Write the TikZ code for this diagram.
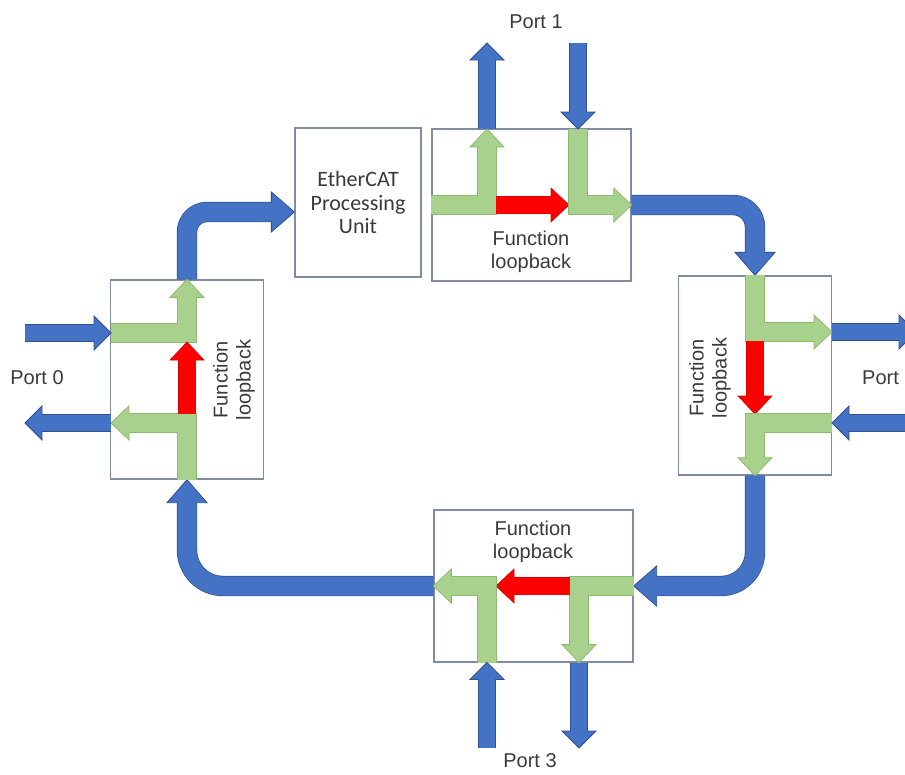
\documentclass[tikz,border=0pt]{standalone}
\usepackage{fontspec}
\setmainfont{Liberation Sans}
\newfontfamily\calibri{Carlito}
\usetikzlibrary{calc}

\definecolor{bluefill}{HTML}{4472C4}
\definecolor{blueedge}{HTML}{2F528F}
\definecolor{greenfill}{HTML}{A9D18E}
\definecolor{greenedge}{HTML}{8DBB6E}
\definecolor{redfill}{HTML}{FF0000}
\definecolor{rededge}{HTML}{D80000}
\definecolor{boxedge}{HTML}{7F8CA3}
\definecolor{ink}{HTML}{3A3A3A}

% head half width and head length for each kind of block arrow
\def\hwport{17pt}  \def\lenport{17pt}
\def\hwlink{20pt}  \def\lenlink{23pt}
\def\hwgreen{17pt} \def\lengreen{18pt}
\def\hwred{17pt}   \def\lenred{18pt}

% \flowarrow[opts]{kind}{shaft path}{last shaft point}{tip}
\newcommand\flowarrow[5][]{%
  \edef\fahw{\csname hw#2\endcsname}%
  \edef\falen{\csname len#2\endcsname}%
  \coordinate (fabase) at ($(#5)!\falen!(#4)$);
  \draw[#2 rim,#1] #3 -- (fabase);
  \filldraw[#2 head] ($(fabase)!\fahw!90:(#5)$) -- (#5) -- ($(fabase)!\fahw!-90:(#5)$) -- cycle;
  \draw[#2 body,#1] #3 -- ($(fabase)!0.8pt!(#5)$);
}

\begin{document}
\begin{tikzpicture}[x=1pt,y=-1pt,
  line join=miter,
  unitbox/.style={draw=boxedge, line width=1.3pt, inner sep=0pt, fill=white},
  wideunit/.style={unitbox, minimum width=199pt, minimum height=152pt},
  tallunit/.style={unitbox, minimum width=153pt, minimum height=199pt},
  lbl/.style={text=ink, font=\fontsize{20}{23}\selectfont, inner sep=0pt, align=center},
  port rim/.style={draw=blueedge, line width=17.4pt},
  port body/.style={draw=bluefill, line width=16pt},
  port head/.style={fill=bluefill, draw=blueedge, line width=0.8pt},
  link rim/.style={draw=blueedge, line width=20.4pt},
  link body/.style={draw=bluefill, line width=19pt},
  link head/.style={fill=bluefill, draw=blueedge, line width=0.8pt},
  green rim/.style={draw=greenedge, line width=19.2pt},
  green body/.style={draw=greenfill, line width=18pt},
  green head/.style={fill=greenfill, draw=greenedge, line width=0.8pt},
  red rim/.style={draw=rededge, line width=17.8pt},
  red body/.style={draw=redfill, line width=17pt},
  red head/.style={fill=redfill, draw=rededge, line width=0.6pt},
]
\useasboundingbox (0,0) rectangle (905,774);

% processing units
\node[tallunit] (box0) at (187,379.5) {};
\node[wideunit] (box1) at (531.5,205) {};
\node[tallunit] (box2) at (755,375.5) {};
\node[wideunit] (box3) at (533.5,586) {};
\node[unitbox, minimum width=126pt, minimum height=149pt, text=ink, align=center,
      font=\calibri\fontsize{22}{23.5}\selectfont] (epu) at (358,202.5) {EtherCAT\\Processing\\Unit};

% port 0 block
\coordinate (g0a) at (111,333);
\coordinate (g0b) at (187,333);
\coordinate (r0s) at (187,414);
\coordinate (r0t) at (187,342);
\coordinate (g0c) at (187,423);
\coordinate (g0d) at (111,423);
\coordinate (p0i) at (25,333);
\coordinate (p0o) at (25,423);

% port 1 block
\coordinate (g1b) at (487,205);
\coordinate (g1c) at (487,129);
\coordinate (r1s) at (496,205);
\coordinate (r1t) at (569,205);
\coordinate (g1d) at (578,129);
\coordinate (g1e) at (578,205);
\coordinate (p1o) at (487,43);
\coordinate (p1i) at (578,43);

% port 2 block
\coordinate (g2a) at (755,332);
\coordinate (g2b) at (832,332);
\coordinate (r2s) at (755,341);
\coordinate (r2t) at (755,414);
\coordinate (g2c) at (832,423);
\coordinate (g2d) at (755,423);
\coordinate (p2o) at (916,332);
\coordinate (p2i) at (925,423);

% port 3 block
\coordinate (g3a) at (579,586);
\coordinate (g3b) at (579,662.5);
\coordinate (r3s) at (570,586);
\coordinate (r3t) at (496,586);
\coordinate (g3c) at (487,662.5);
\coordinate (g3d) at (487,586);
\coordinate (p3i) at (487,748);
\coordinate (p3o) at (579,748);

% ring corners
\coordinate (k1t) at ($(epu.west)+(0,9.5)$);
\coordinate (k1) at (box0.north |- k1t);
\coordinate (k2) at (box2.north |- box1.east);
\coordinate (k3) at (box2.south |- box3.east);
\coordinate (k4) at (box0.south |- box3.west);

% ring links
\flowarrow[rounded corners=20pt]{link}{(box0.north) -- (k1)}{k1}{k1t}
\flowarrow[rounded corners=22pt]{link}{(box1.east) -- (k2)}{k2}{box2.north}
\flowarrow[rounded corners=34pt]{link}{(box2.south) -- (k3)}{k3}{box3.east}
\flowarrow[rounded corners=36pt]{link}{(box3.west) -- (k4)}{k4}{box0.south}

% port 0
\flowarrow{green}{(g0a) -- (g0b)}{g0b}{box0.north}
\flowarrow{green}{(box0.south) -- (g0c)}{g0c}{g0d}
\flowarrow{red}{(r0s)}{r0s}{r0t}
\flowarrow{port}{(p0i)}{p0i}{g0a}
\flowarrow{port}{(g0d)}{g0d}{p0o}

% port 1
\flowarrow{green}{(box1.west) -- (g1b)}{g1b}{g1c}
\flowarrow{red}{(r1s)}{r1s}{r1t}
\flowarrow{green}{(g1d) -- (g1e)}{g1e}{box1.east}
\flowarrow{port}{(g1c)}{g1c}{p1o}
\flowarrow{port}{(p1i)}{p1i}{g1d}

% port 2
\flowarrow{green}{(box2.north) -- (g2a)}{g2a}{g2b}
\flowarrow{red}{(r2s)}{r2s}{r2t}
\flowarrow{green}{(g2c) -- (g2d)}{g2d}{box2.south}
\flowarrow{port}{(g2b)}{g2b}{p2o}
\flowarrow{port}{(p2i)}{p2i}{g2c}

% port 3
\flowarrow{green}{(box3.east) -- (g3a)}{g3a}{g3b}
\flowarrow{red}{(r3s)}{r3s}{r3t}
\flowarrow{green}{(g3c) -- (g3d)}{g3d}{box3.west}
\flowarrow{port}{(p3i)}{p3i}{g3c}
\flowarrow{port}{(g3b)}{g3b}{p3o}

% labels
\node[lbl] (port0) at (37,378) {Port 0};
\node[lbl] (port1) at (536,22) {Port 1};
\node[lbl, anchor=west] (port2) at (862,378) {Port};
\node[lbl] (port3) at (530,761) {Port 3};
\node[lbl, rotate=90] (loop0) at (234,380) {Function\\loopback};
\node[lbl] (loop1) at (531,252) {Function\\loopback};
\node[lbl, rotate=90] (loop2) at (710,378) {Function\\loopback};
\node[lbl] (loop3) at (533,542) {Function\\loopback};
\end{tikzpicture}
\end{document}
